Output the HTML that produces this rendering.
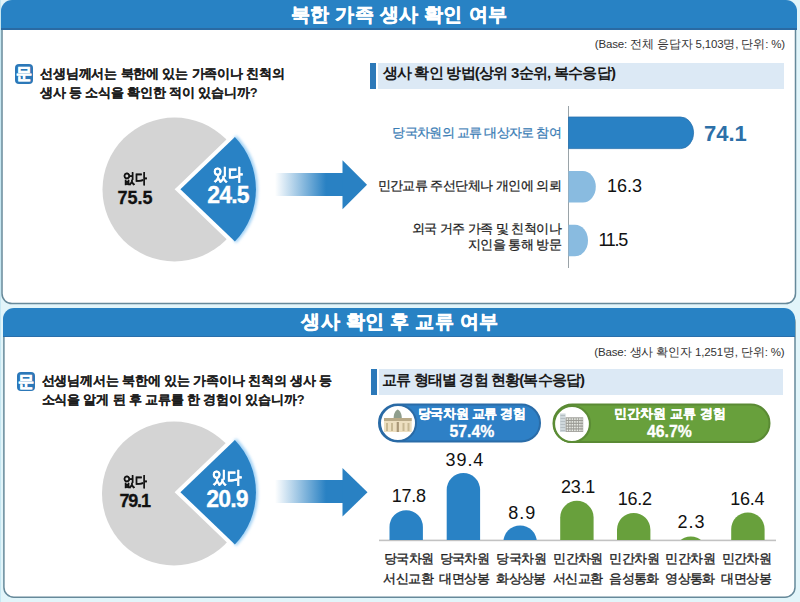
<!DOCTYPE html>
<html><head><meta charset="utf-8">
<style>
*{box-sizing:border-box;margin:0;padding:0}
html,body{width:800px;height:602px;overflow:hidden;background:#e2f5fa;font-family:"Liberation Sans",sans-serif;color:#1a1a1a}
.a{position:absolute;white-space:nowrap}
.panel{position:absolute;background:#fff;border:2px solid #6c8796;border-radius:10px;overflow:hidden}
.hdr{position:absolute;left:0;top:0;right:0;background:#2b7cc1;border-bottom:2px solid #2a6aa3;color:#fff;font-weight:bold;text-align:center}
.q{font-weight:bold;font-size:12.8px;letter-spacing:-0.15px;-webkit-text-stroke:0.1px #1d1d1d;line-height:19px;color:#1d1d1d}
.qi{position:absolute;width:18.5px;height:19.5px;background:#2c78b8;border-radius:4px;color:#fff;font-weight:bold;font-size:16px;line-height:19.5px;text-align:center;-webkit-text-stroke:0.6px #fff;overflow:hidden}
.band{position:absolute;background:#dce9f5}
.bbar{position:absolute;background:#2c79b9;width:5.5px}
.bt{font-size:15px;letter-spacing:-0.75px;font-weight:bold;line-height:18px;color:#1a1a1a}
.base{font-size:11.5px;letter-spacing:-0.15px;color:#333}
</style></head><body>

<!-- PANEL 1 -->
<svg class="a" style="left:0;top:0" width="800" height="602"><rect x="0" y="0" width="1" height="602" fill="#c6e7f2"/><rect x="2" y="10" width="793.5" height="293.6" rx="10" fill="#fff" stroke="#66899a" stroke-width="1.5"/><rect x="3.9" y="312" width="791.1" height="285.2" rx="10" fill="#fff" stroke="#66899a" stroke-width="1.5"/></svg>
<div class="a" style="left:1px;top:0;width:796px;height:30px;background:#2882c4;border-radius:11px 11px 0 0;border-bottom:2px solid #2a6aa3"></div>
<div class="a" style="left:-1px;top:3px;width:800px;text-align:center;color:#fff;font-weight:bold;font-size:19px;letter-spacing:0.4px;-webkit-text-stroke:0.5px #fff;line-height:24px">북한 가족 생사 확인 여부</div>

<div class="a base" style="right:15px;top:35.5px;line-height:16px">(Base: 전체 응답자 5,103명, 단위: %)</div>

<div class="qi" style="left:14.7px;top:64px">문</div>
<div class="a q" style="left:40px;top:63.5px">선생님께서는 북한에 있는 가족이나 친척의<br>생사 등 소식을 확인한 적이 있습니까?</div>

<div class="band" style="left:378px;top:62.5px;width:406px;height:26.5px"></div><div class="bbar" style="left:370.4px;top:62.5px;height:26.5px"></div>
<div class="a bt" style="left:382.5px;top:64px">생사 확인 방법(상위 3순위, 복수응답)</div>

<!-- pie 1 -->
<svg class="a" style="left:0;top:0" width="800" height="602" viewBox="0 0 800 602">
  <circle cx="174.5" cy="189.5" r="72" fill="#d4d4d4"/>
  <defs><filter id="gl" x="-20%" y="-20%" width="140%" height="140%"><feGaussianBlur stdDeviation="1.6"/></filter></defs>
  <path d="M180.4 189.3 L234.9 137 A75.5 75.5 0 0 1 234.9 241.6 Z" fill="#fff" stroke="#fff" stroke-width="8" stroke-linejoin="miter"/>
  <path d="M234.9 137 A75.5 75.5 0 0 1 234.9 241.6" fill="none" stroke="#9fd0f5" stroke-width="4" filter="url(#gl)"/>
  <path d="M180.4 189.3 L234.9 137 A75.5 75.5 0 0 1 234.9 241.6 Z" fill="#2982c5"/>
  <!-- arrow 1 -->
  <defs>
    <linearGradient id="ag" x1="0" x2="1" y1="0" y2="0">
      <stop offset="0" stop-color="#2981c3" stop-opacity="0"/>
      <stop offset="0.75" stop-color="#2981c3" stop-opacity="1"/>
    </linearGradient>
  </defs>
  <rect x="275" y="173" width="68" height="23" fill="url(#ag)"/>
  <path d="M342.5 160.3 L367 184.8 L342.5 209.3 Z" fill="#2981c3"/>
  <!-- axis 1 -->
  <rect x="568" y="106" width="1" height="162" fill="#9aa3a8"/>
  <path d="M568.5 117 H680.6 A13 15.8 0 0 1 680.6 148.6 H568.5 Z" fill="#2981c4" stroke="#2a72ae" stroke-width="0.8"/>
  <path d="M568.5 171 H582.8 A13 15.8 0 0 1 582.8 202.6 H568.5 Z" fill="#89bbe0"/>
  <path d="M568.5 224.7 H575 A13 15.8 0 0 1 575 256.3 H568.5 Z" fill="#89bbe0"/>
</svg>

<div class="a" style="left:110px;top:169.5px;width:50px;text-align:center;font-size:14px;transform:scaleX(0.85);-webkit-text-stroke:0.3px #111;font-weight:bold;line-height:17px">없다</div>
<div class="a" style="left:100px;top:187.5px;width:70px;text-align:center;font-size:18px;-webkit-text-stroke:0.3px #111;font-weight:bold;line-height:20px;color:#111">75.5</div>
<div class="a" style="left:198.3px;top:164.5px;width:60px;text-align:center;font-size:17px;transform:scaleX(0.86);-webkit-text-stroke:0.4px #fff;font-weight:bold;line-height:20px;color:#fff">있다</div>
<div class="a" style="left:192.5px;top:182.5px;width:70px;text-align:center;font-size:23px;letter-spacing:-0.9px;text-indent:0.9px;-webkit-text-stroke:0.3px #fff;font-weight:bold;line-height:24px;color:#fff">24.5</div>

<div class="a" style="right:239px;top:124px;font-size:13px;letter-spacing:-0.7px;-webkit-text-stroke:0.25px #3a7db5;color:#3a7db5;line-height:18px">당국차원의 교류 대상자로 참여</div>
<div class="a" style="right:239px;top:176.5px;font-size:13px;letter-spacing:-0.55px;-webkit-text-stroke:0.25px #222;color:#222;line-height:18px">민간교류 주선단체나 개인에 의뢰</div>
<div class="a" style="right:239px;top:220.5px;font-size:13px;letter-spacing:-0.55px;-webkit-text-stroke:0.25px #222;color:#222;line-height:16px;text-align:right">외국 거주 가족 및 친척이나<br>지인을 통해 방문</div>

<div class="a" style="left:704px;top:122px;font-size:22px;font-weight:bold;color:#2d70a8;line-height:24px">74.1</div>
<div class="a" style="left:607px;top:176px;font-size:18px;color:#111;line-height:20px">16.3</div>
<div class="a" style="left:598.5px;top:230px;font-size:18px;letter-spacing:-1.3px;color:#111;line-height:20px">11.5</div>

<!-- PANEL 2 -->
<div class="a" style="left:3px;top:308px;width:792px;height:29px;background:#2882c4;border-radius:11px 11px 0 0;border-bottom:1.5px solid #2a6fab"></div>
<div class="a" style="left:0;top:310px;width:800px;text-align:center;color:#fff;font-weight:bold;font-size:19px;letter-spacing:0.15px;letter-spacing:0.4px;-webkit-text-stroke:0.5px #fff;line-height:24px">생사 확인 후 교류 여부</div>

<div class="a base" style="right:15.5px;top:343.5px;line-height:16px">(Base: 생사 확인자 1,251명, 단위: %)</div>

<div class="qi" style="left:16.5px;top:371.5px">문</div>
<div class="a q" style="left:41.5px;top:370.5px">선생님께서는 북한에 있는 가족이나 친척의 생사 등<br>소식을 알게 된 후 교류를 한 경험이 있습니까?</div>

<div class="band" style="left:379px;top:368.5px;width:404px;height:26.5px"></div><div class="bbar" style="left:371.4px;top:368.5px;height:26.5px"></div>
<div class="a bt" style="left:382px;top:370.5px;letter-spacing:-0.85px">교류 형태별 경험 현황(복수응답)</div>


<!-- pie 2 + arrow 2 + bars -->
<svg class="a" style="left:0;top:0" width="800" height="602" viewBox="0 0 800 602">
  <defs>
    <linearGradient id="ag2" x1="0" x2="1" y1="0" y2="0">
      <stop offset="0" stop-color="#2981c3" stop-opacity="0"/>
      <stop offset="0.75" stop-color="#2981c3" stop-opacity="1"/>
    </linearGradient>
  </defs>
  <circle cx="174" cy="493.5" r="72" fill="#d4d4d4"/>
  <path d="M180.4 492.2 L234.9 439.9 A75.5 75.5 0 0 1 234.9 544.5 Z" fill="#fff" stroke="#fff" stroke-width="8" stroke-linejoin="miter"/>
  <path d="M234.9 439.9 A75.5 75.5 0 0 1 234.9 544.5" fill="none" stroke="#9fd0f5" stroke-width="4" filter="url(#gl)"/>
  <path d="M180.4 492.2 L234.9 439.9 A75.5 75.5 0 0 1 234.9 544.5 Z" fill="#2982c5"/>
  <rect x="275" y="480" width="68" height="23" fill="url(#ag2)"/>
  <path d="M342.5 468 L367.5 492.2 L342.5 516.6 Z" fill="#2981c3"/>
  <!-- pills -->
  <rect x="379" y="404.5" width="161" height="37" rx="18.5" fill="#2e80c6" stroke="#2a6ca8" stroke-width="2"/>
  <circle cx="398" cy="423" r="18" fill="#fff" stroke="#2a6aa5" stroke-width="2"/>
  <!-- building 1 -->
  <path d="M393.6 418.5 C393.6 413.5 395.3 410.6 397.7 409.4 C400.1 410.6 401.8 413.5 401.8 418.5 Z" fill="#8f9e8d"/>
  <rect x="384" y="418" width="27.7" height="14" fill="#eddfc0"/>
  <rect x="384" y="418" width="27.7" height="3" fill="#b9aa88"/>
  <rect x="386" y="423" width="2" height="8" fill="#c7b893"/>
  <rect x="391" y="423" width="2" height="8" fill="#c7b893"/>
  <rect x="396.7" y="422" width="2.2" height="10" fill="#a89676"/>
  <rect x="402.5" y="423" width="2" height="8" fill="#c7b893"/>
  <rect x="407.5" y="423" width="2" height="8" fill="#c7b893"/>
  <rect x="553.5" y="404.5" width="216" height="37.5" rx="18.75" fill="#68a03c" stroke="#5a8a34" stroke-width="2"/>
  <circle cx="572" cy="424" r="18" fill="#fff" stroke="#5b8c35" stroke-width="2.2"/>
  <!-- building 2 -->
  <rect x="560" y="413.5" width="5.6" height="18.5" fill="#cfd8dc"/>
  <rect x="565.6" y="417.3" width="17.6" height="14.6" fill="#9a9a94"/>
  <g fill="#e9ece6">
    <rect x="566.6" y="418.3" width="1.6" height="1.6"/><rect x="569.1" y="418.3" width="1.6" height="1.6"/><rect x="571.6" y="418.3" width="1.6" height="1.6"/><rect x="574.1" y="418.3" width="1.6" height="1.6"/><rect x="576.6" y="418.3" width="1.6" height="1.6"/><rect x="579.1" y="418.3" width="1.6" height="1.6"/><rect x="581.4" y="418.3" width="1.2" height="1.6"/>
    <rect x="566.6" y="421.1" width="1.6" height="1.6"/><rect x="569.1" y="421.1" width="1.6" height="1.6"/><rect x="571.6" y="421.1" width="1.6" height="1.6"/><rect x="574.1" y="421.1" width="1.6" height="1.6"/><rect x="576.6" y="421.1" width="1.6" height="1.6"/><rect x="579.1" y="421.1" width="1.6" height="1.6"/><rect x="581.4" y="421.1" width="1.2" height="1.6"/>
    <rect x="566.6" y="423.9" width="1.6" height="1.6"/><rect x="569.1" y="423.9" width="1.6" height="1.6"/><rect x="571.6" y="423.9" width="1.6" height="1.6"/><rect x="574.1" y="423.9" width="1.6" height="1.6"/><rect x="576.6" y="423.9" width="1.6" height="1.6"/><rect x="579.1" y="423.9" width="1.6" height="1.6"/><rect x="581.4" y="423.9" width="1.2" height="1.6"/>
    <rect x="566.6" y="426.7" width="1.6" height="1.6"/><rect x="569.1" y="426.7" width="1.6" height="1.6"/><rect x="571.6" y="426.7" width="1.6" height="1.6"/><rect x="574.1" y="426.7" width="1.6" height="1.6"/><rect x="576.6" y="426.7" width="1.6" height="1.6"/><rect x="579.1" y="426.7" width="1.6" height="1.6"/><rect x="581.4" y="426.7" width="1.2" height="1.6"/>
    <rect x="566.6" y="429.5" width="1.6" height="1.6"/><rect x="569.1" y="429.5" width="1.6" height="1.6"/><rect x="571.6" y="429.5" width="1.6" height="1.6"/><rect x="574.1" y="429.5" width="1.6" height="1.6"/><rect x="576.6" y="429.5" width="1.6" height="1.6"/><rect x="579.1" y="429.5" width="1.6" height="1.6"/><rect x="581.4" y="429.5" width="1.2" height="1.6"/>
  </g>
  <g fill="#aeb8bd"><rect x="560.5" y="415" width="4.6" height="0.8"/><rect x="560.5" y="418" width="4.6" height="0.8"/><rect x="560.5" y="421" width="4.6" height="0.8"/><rect x="560.5" y="424" width="4.6" height="0.8"/><rect x="560.5" y="427" width="4.6" height="0.8"/><rect x="560.5" y="430" width="4.6" height="0.8"/></g>
  <!-- bars -->
  <rect x="379" y="539.6" width="397" height="1.6" fill="#c2c2c2"/>
  <path d="M389.5 540 V526.9 A16.7 16.7 0 0 1 422.9 526.9 V540 Z" fill="#2982c5"/>
  <path d="M446.7 540 V489.8 A16.7 16.7 0 0 1 480.1 489.8 V540 Z" fill="#2982c5"/>
  <circle cx="520.1" cy="542.1" r="16.7" fill="#2982c5" clip-path="url(#bc2)"/>
  <path d="M560.2 540 V517.5 A16.7 16.7 0 0 1 593.6 517.5 V540 Z" fill="#68a03c"/>
  <path d="M617 540 V529.6 A16.7 16.7 0 0 1 650.4 529.6 V540 Z" fill="#68a03c"/>
  <path d="M731.2 540 V529.1 A16.7 16.7 0 0 1 764.6 529.1 V540 Z" fill="#68a03c"/>
  <clipPath id="bc"><rect x="600" y="400" width="200" height="140"/></clipPath><clipPath id="bc2"><rect x="490" y="400" width="60" height="140"/></clipPath>
  <circle cx="690.8" cy="553.3" r="16.7" fill="#68a03c" clip-path="url(#bc)"/>
</svg>

<div class="a" style="left:110px;top:472.5px;width:50px;text-align:center;font-size:14px;transform:scaleX(0.85);-webkit-text-stroke:0.3px #111;font-weight:bold;line-height:17px">없다</div>
<div class="a" style="left:99px;top:491px;width:70px;text-align:center;font-size:18px;letter-spacing:-1.2px;text-indent:1.2px;-webkit-text-stroke:0.3px #111;font-weight:bold;line-height:20px;color:#111">79.1</div>
<div class="a" style="left:196.5px;top:468px;width:60px;text-align:center;font-size:17px;transform:scaleX(0.86);-webkit-text-stroke:0.4px #fff;font-weight:bold;line-height:20px;color:#fff">있다</div>
<div class="a" style="left:191.5px;top:487px;width:70px;text-align:center;font-size:23px;letter-spacing:-0.9px;text-indent:0.9px;-webkit-text-stroke:0.3px #fff;font-weight:bold;line-height:24px;color:#fff">20.9</div>

<div class="a" style="left:401.7px;top:404.5px;width:140px;text-align:center;font-size:13px;letter-spacing:-0.3px;-webkit-text-stroke:0.3px #fff;font-weight:bold;color:#fff;line-height:18px">당국차원 교류 경험</div>
<div class="a" style="left:421.9px;top:422.5px;width:100px;text-align:center;font-size:15.8px;-webkit-text-stroke:0.3px #fff;font-weight:bold;color:#fff;line-height:18px">57.4%</div>
<div class="a" style="left:600px;top:404.5px;width:140px;text-align:center;font-size:13px;-webkit-text-stroke:0.3px #fff;font-weight:bold;color:#fff;line-height:18px">민간차원 교류 경험</div>
<div class="a" style="left:619.4px;top:422.5px;width:100px;text-align:center;font-size:15.8px;-webkit-text-stroke:0.3px #fff;font-weight:bold;color:#fff;line-height:18px">46.7%</div>

<div class="a" style="left:378.65px;top:486px;width:60px;text-align:center;font-size:18px;letter-spacing:-0.3px;text-indent:0.3px;line-height:20px;color:#111">17.8</div>
<div class="a" style="left:434.45px;top:450px;width:60px;text-align:center;font-size:18px;letter-spacing:0.9px;text-indent:0.9px;line-height:20px;color:#111">39.4</div>
<div class="a" style="left:491.75px;top:503px;width:60px;text-align:center;font-size:18px;letter-spacing:1.0px;text-indent:1.0px;line-height:20px;color:#111">8.9</div>
<div class="a" style="left:547.80px;top:477px;width:60px;text-align:center;font-size:18px;letter-spacing:-0.3px;text-indent:0.3px;line-height:20px;color:#111">23.1</div>
<div class="a" style="left:604.60px;top:489px;width:60px;text-align:center;font-size:18px;letter-spacing:-0.3px;text-indent:0.3px;line-height:20px;color:#111">16.2</div>
<div class="a" style="left:660.95px;top:512px;width:60px;text-align:center;font-size:18px;letter-spacing:1.0px;text-indent:1.0px;line-height:20px;color:#111">2.3</div>
<div class="a" style="left:717.15px;top:489px;width:60px;text-align:center;font-size:18px;letter-spacing:-0.3px;text-indent:0.3px;line-height:20px;color:#111">16.4</div>

<div class="a" style="left:378.3px;top:549px;width:60px;text-align:center;font-size:13px;letter-spacing:-0.6px;text-indent:0.6px;-webkit-text-stroke:0.35px #222;line-height:20.3px;color:#1e1e1e">당국차원<br>서신교환</div>
<div class="a" style="left:434.2px;top:549px;width:60px;text-align:center;font-size:13px;letter-spacing:-0.6px;text-indent:0.6px;-webkit-text-stroke:0.35px #222;line-height:20.3px;color:#1e1e1e">당국차원<br>대면상봉</div>
<div class="a" style="left:491px;top:549px;width:60px;text-align:center;font-size:13px;letter-spacing:-0.6px;text-indent:0.6px;-webkit-text-stroke:0.35px #222;line-height:20.3px;color:#1e1e1e">당국차원<br>화상상봉</div>
<div class="a" style="left:547.7px;top:549px;width:60px;text-align:center;font-size:13px;letter-spacing:-0.6px;text-indent:0.6px;-webkit-text-stroke:0.35px #222;line-height:20.3px;color:#1e1e1e">민간차원<br>서신교환</div>
<div class="a" style="left:604px;top:549px;width:60px;text-align:center;font-size:13px;letter-spacing:-0.6px;text-indent:0.6px;-webkit-text-stroke:0.35px #222;line-height:20.3px;color:#1e1e1e">민간차원<br>음성통화</div>
<div class="a" style="left:660px;top:549px;width:60px;text-align:center;font-size:13px;letter-spacing:-0.6px;text-indent:0.6px;-webkit-text-stroke:0.35px #222;line-height:20.3px;color:#1e1e1e">민간차원<br>영상통화</div>
<div class="a" style="left:716.2px;top:549px;width:60px;text-align:center;font-size:13px;letter-spacing:-0.6px;text-indent:0.6px;-webkit-text-stroke:0.35px #222;line-height:20.3px;color:#1e1e1e">민간차원<br>대면상봉</div>

</body></html>
